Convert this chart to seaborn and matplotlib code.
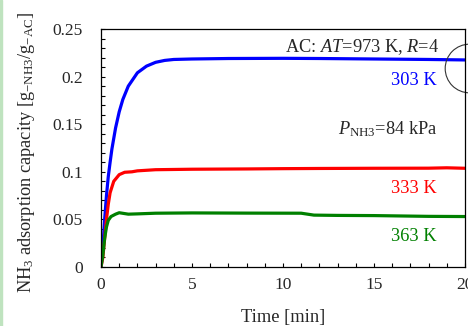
import numpy as np
import pandas as pd
import matplotlib
matplotlib.use("Agg")
import matplotlib.pyplot as plt
from matplotlib.patches import Rectangle
from matplotlib.ticker import MultipleLocator
import seaborn as sns

# readings (time in min, capacity in g-NH3/g-AC)
t_303 = [0, 0.1, 0.2, 0.3, 0.4, 0.5, 0.6, 0.8, 1.0, 1.2, 1.5, 2.0, 2.5, 3.0, 3.5, 4, 5, 7, 10, 12, 15, 18, 20]
q_303 = [0, 0.02, 0.05, 0.075, 0.095, 0.11, 0.124, 0.146, 0.163, 0.176, 0.19, 0.204, 0.211, 0.215, 0.217,
         0.218, 0.2185, 0.219, 0.2192, 0.219, 0.2185, 0.218, 0.2175]

t_333 = [0, 0.1, 0.2, 0.3, 0.4, 0.5, 0.7, 1.0, 1.3, 1.7, 2, 3, 5, 8, 10, 12, 15, 18, 19, 20]
q_333 = [0, 0.01, 0.03, 0.05, 0.066, 0.078, 0.09, 0.097, 0.0995, 0.1, 0.101, 0.1022, 0.1027, 0.103,
         0.1033, 0.1035, 0.1037, 0.1038, 0.1042, 0.1037]

t_363 = [0, 0.1, 0.2, 0.3, 0.4, 0.55, 0.8, 1.0, 1.5, 2, 3, 5, 8, 11, 11.7, 13, 15, 18, 20]
q_363 = [0, 0.012, 0.03, 0.042, 0.049, 0.053, 0.0555, 0.057, 0.0555, 0.0558, 0.0565, 0.0568, 0.0566,
         0.0565, 0.0545, 0.0542, 0.054, 0.0532, 0.053]

temps = ["303 K", "333 K", "363 K"]
colors = ["#0000ff", "#ff0000", "#008000"]

df = pd.concat([
    pd.DataFrame({"time": t_303, "q": q_303, "temp": temps[0]}),
    pd.DataFrame({"time": t_333, "q": q_333, "temp": temps[1]}),
    pd.DataFrame({"time": t_363, "q": q_363, "temp": temps[2]}),
])

sns.set_style("ticks")
plt.rcParams["font.family"] = ["Liberation Serif", "DejaVu Serif"]
plt.rcParams["mathtext.fontset"] = "custom"
plt.rcParams["mathtext.rm"] = "Liberation Serif"
plt.rcParams["mathtext.it"] = "Liberation Serif:italic"
plt.rcParams["mathtext.bf"] = "Liberation Serif:bold"

fig = plt.figure(figsize=(4.68, 3.26), dpi=100)
ax = fig.add_axes([101 / 468, 59 / 326, 364 / 468, 238 / 326])

sns.lineplot(data=df, x="time", y="q", hue="temp", palette=dict(zip(temps, colors)),
             linewidth=2.3, legend=False, ax=ax, sort=False)

ax.set_xlim(0, 20)
ax.set_ylim(0, 0.25)
ax.xaxis.set_major_locator(MultipleLocator(5))
ax.xaxis.set_minor_locator(MultipleLocator(1))
ax.yaxis.set_major_locator(MultipleLocator(0.05))
ax.yaxis.set_minor_locator(MultipleLocator(0.01))
ax.set_yticks([0, 0.05, 0.1, 0.15, 0.2, 0.25])
ax.set_yticklabels(["0", "0.05", "0.1", "0.15", "0.2", "0.25"])
ax.tick_params(which="both", direction="in", length=3, width=0.8, labelsize=12.5, color="black")
ax.tick_params(axis="y", pad=13)
ax.tick_params(axis="x", pad=7)
for s in ax.spines.values():
    s.set_visible(True)
    s.set_color("black")
    s.set_linewidth(0.9)

ax.set_xlabel("Time [min]", fontsize=13.3, labelpad=12)
ax.set_ylabel(r"NH$_3$ adsorption capacity [g$_{\mathrm{-NH3}}$/g$_{\mathrm{-AC}}$]", fontsize=13.2)
ax.yaxis.set_label_coords(-0.175, 0.48)

ax.text(18.55, 0.2258, r"AC: $\mathit{AT}$=973 K, $\mathit{R}$=4", fontsize=13.2, ha="right", va="baseline")
ax.text(18.45, 0.191, temps[0], color=colors[0], fontsize=13.2, ha="right", va="baseline")
ax.text(18.5, 0.1394, r"$P_{\mathrm{NH3}}$=84 kPa", fontsize=13.2, ha="right", va="baseline")
ax.text(18.45, 0.0774, temps[1], color=colors[1], fontsize=13.2, ha="right", va="baseline")
ax.text(18.45, 0.0273, temps[2], color=colors[2], fontsize=13.2, ha="right", va="baseline")

# open circle marking the end of the 303 K curve
ax.plot([20.2], [0.2095], marker="o", ms=35, mfc="none", mec="#333333", mew=0.8, clip_on=False)

# thin green strip on the left edge of the figure
fig.patches.append(Rectangle((0, 0), 2 / 468, 1, transform=fig.transFigure, color="#bfe3bf", zorder=0))

fig.savefig("out.png", dpi=100)
